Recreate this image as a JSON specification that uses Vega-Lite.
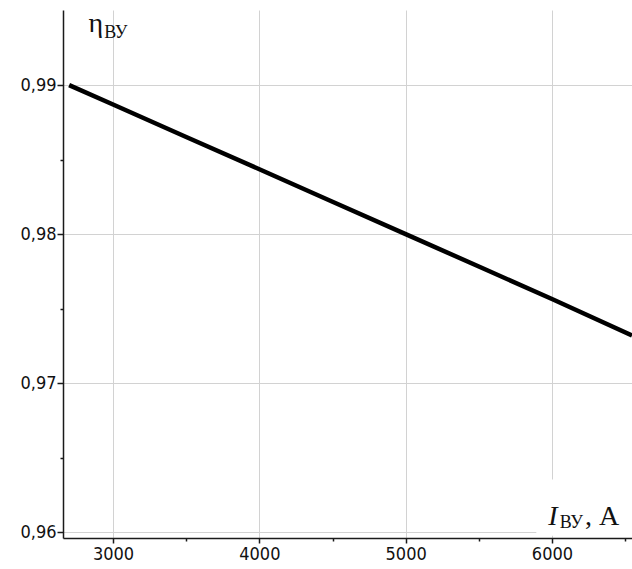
{
  "$schema": "https://vega.github.io/schema/vega-lite/v6.json",
  "width": 569,
  "height": 528,
  "autosize": "none",
  "padding": {"left": 63, "top": 10, "right": 0, "bottom": 31},
  "background": "white",
  "config": {
    "view": {"stroke": null},
    "axis": {
      "domainColor": "#1a1a1a",
      "domainWidth": 1.5,
      "tickColor": "#1a1a1a",
      "tickWidth": 1.5,
      "gridColor": "#d2d2d2",
      "gridWidth": 1,
      "labelFont": "DejaVu Sans Condensed",
      "labelFontSize": 18,
      "labelColor": "#111",
      "title": null
    }
  },
  "datasets": {
    "curve": [
      {"I": 2700, "eta": 0.99},
      {"I": 3000, "eta": 0.98870},
      {"I": 3500, "eta": 0.98652},
      {"I": 4000, "eta": 0.98435},
      {"I": 4500, "eta": 0.98217},
      {"I": 5000, "eta": 0.98},
      {"I": 5500, "eta": 0.97782},
      {"I": 6000, "eta": 0.97564},
      {"I": 6547, "eta": 0.97320}
    ]
  },
  "layer": [
    {
      "data": {"name": "curve"},
      "mark": {"type": "line", "color": "black", "strokeWidth": 4.5, "clip": true},
      "encoding": {
        "x": {
          "field": "I",
          "type": "quantitative",
          "scale": {"domain": [2658, 6547], "nice": false, "zero": false},
          "axis": {
            "values": [3000, 3500, 4000, 4500, 5000, 5500, 6000, 6500],
            "grid": true,
            "gridOpacity": {"expr": "datum.value % 1000 === 0 ? 1 : 0"},
            "tickSize": {"expr": "datum.value % 1000 === 0 ? 5 : 3"},
            "labelExpr": "datum.value % 1000 === 0 ? datum.label : ''",
            "format": "d",
            "labelPadding": 2,
            "labelFlush": false
          }
        },
        "y": {
          "field": "eta",
          "type": "quantitative",
          "scale": {"domain": [0.9596, 0.99504], "nice": false, "zero": false},
          "axis": {
            "values": [0.96, 0.965, 0.97, 0.975, 0.98, 0.985, 0.99],
            "grid": true,
            "gridOpacity": {"expr": "abs(round(datum.value * 100) - datum.value * 100) < 0.01 ? 1 : 0"},
            "tickSize": {"expr": "abs(round(datum.value * 100) - datum.value * 100) < 0.01 ? 6 : 3"},
            "labelExpr": "abs(round(datum.value * 100) - datum.value * 100) < 0.01 ? replace(format(datum.value, '.2f'), '.', ',') : ''",
            "labelPadding": 1,
            "labelFlush": false
          }
        }
      }
    },
    {
      "data": {"values": [{}]},
      "mark": {"type": "rect", "color": "white"},
      "encoding": {
        "x": {"datum": 5893},
        "x2": {"datum": 6547},
        "y": {"datum": 0.96353},
        "y2": {"datum": 0.95975}
      }
    },
    {
      "data": {"values": [{}]},
      "mark": {"type": "text", "text": "η", "font": "Liberation Serif", "fontSize": 28, "align": "left", "baseline": "alphabetic", "color": "#111"},
      "encoding": {"x": {"datum": 2832}, "y": {"datum": 0.99356}}
    },
    {
      "data": {"values": [{}]},
      "mark": {"type": "text", "text": "ВУ", "font": "Liberation Serif", "fontSize": 18, "align": "left", "baseline": "alphabetic", "color": "#111"},
      "encoding": {"x": {"datum": 2940}, "y": {"datum": 0.99316}}
    },
    {
      "data": {"values": [{}]},
      "mark": {"type": "text", "text": "I", "font": "Liberation Serif", "fontStyle": "italic", "fontSize": 28, "align": "left", "baseline": "alphabetic", "color": "#111"},
      "encoding": {"x": {"datum": 5975}, "y": {"datum": 0.96044}}
    },
    {
      "data": {"values": [{}]},
      "mark": {"type": "text", "text": "ВУ", "font": "Liberation Serif", "fontSize": 18, "align": "left", "baseline": "alphabetic", "color": "#111"},
      "encoding": {"x": {"datum": 6053}, "y": {"datum": 0.96024}}
    },
    {
      "data": {"values": [{}]},
      "mark": {"type": "text", "text": ", А", "font": "Liberation Serif", "fontSize": 28, "align": "left", "baseline": "alphabetic", "color": "#111"},
      "encoding": {"x": {"datum": 6225}, "y": {"datum": 0.96044}}
    }
  ]
}
